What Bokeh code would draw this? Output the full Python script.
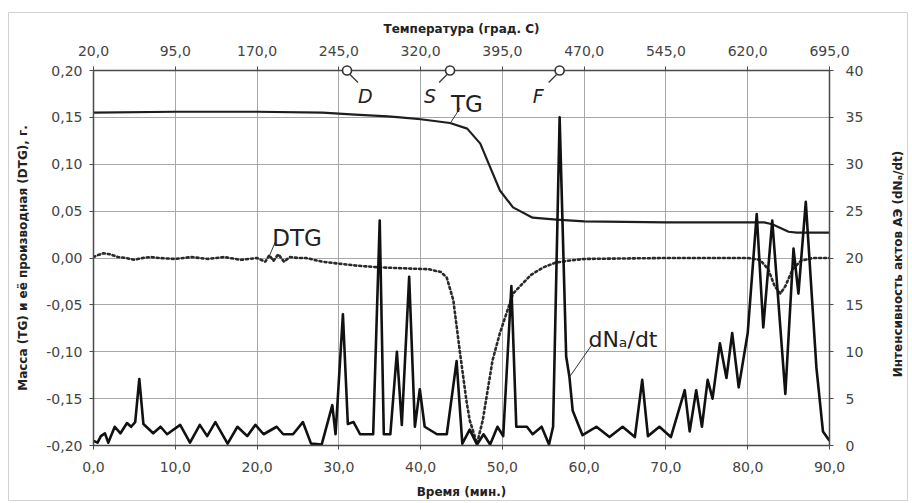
import math
from bokeh.plotting import figure
from bokeh.models import (Range1d, LinearAxis, FixedTicker, ColumnDataSource,
                          CustomJSTickFormatter)
from bokeh.embed import file_html
from bokeh.resources import INLINE
from bokeh.core.properties import value

# ---------------- data ----------------
time_ticks = [0, 10, 20, 30, 40, 50, 60, 70, 80, 90]
temp_ticks = [20, 95, 170, 245, 320, 395, 470, 545, 620, 695]
mass_ticks = [-0.20, -0.15, -0.10, -0.05, 0.0, 0.05, 0.10, 0.15, 0.20]
ae_ticks = [0, 5, 10, 15, 20, 25, 30, 35, 40]

tg_t = [0, 10, 20, 28, 32, 36, 37.5, 40, 43.6, 45.7, 47.3, 48.5, 49.7, 51.3,
        53.7, 56.6, 60, 70, 82, 83, 84, 85, 86, 90]
tg_v = [0.155, 0.156, 0.156, 0.155, 0.153, 0.151, 0.150, 0.148, 0.144, 0.138,
        0.122, 0.097, 0.072, 0.054, 0.043, 0.041, 0.039, 0.038, 0.038, 0.036,
        0.032, 0.028, 0.027, 0.027]

dtg_t = [0, 0.5, 1.2, 2, 3, 4, 5, 6, 7, 8, 10, 12, 14, 16, 18, 20, 21, 21.5,
         22, 22.6, 23.3, 24, 25, 26, 27, 28, 30, 32, 35, 38, 41, 42.5, 43.2,
         44, 44.8, 45.6, 46, 46.9, 47.6, 48.8, 49.7, 50.5, 51.3, 52.5, 53.5,
         55, 56.5, 58, 60, 70, 80, 81.5, 82.5, 83.3, 84, 84.6, 85.5, 86.5, 88,
         90]
dtg_v = [0.001, 0.003, 0.005, 0.004, 0.001, 0.0, -0.002, 0.0, 0.001, 0.0,
         -0.001, 0.001, -0.001, 0.001, -0.002, 0.0, -0.004, 0.003, -0.003,
         0.004, -0.004, 0.001, 0.0, 0.0, -0.002, -0.004, -0.006, -0.008,
         -0.010, -0.011, -0.012, -0.015, -0.021, -0.045, -0.100, -0.152,
         -0.173, -0.198, -0.173, -0.109, -0.080, -0.059, -0.038, -0.027,
         -0.018, -0.010, -0.005, -0.003, -0.001, 0.0, 0.0, -0.002, -0.012,
         -0.030, -0.038, -0.030, -0.012, -0.003, 0.0, 0.0]

ae_t = [0.0, 0.5, 0.9, 1.4, 1.8, 2.6, 3.3, 4.1, 4.6, 5.1, 5.6, 6.1, 7.3, 8.2,
        9.0, 10.6, 11.8, 13.0, 13.9, 14.9, 16.4, 17.6, 18.8, 19.8, 20.8, 22.4,
        23.2, 24.4, 25.6, 26.6, 27.9, 28.8, 29.2, 29.6, 30.5, 31.1, 31.8, 32.6,
        34.2, 35.0, 35.5, 36.3, 37.1, 37.7, 38.6, 39.3, 39.9, 40.5, 42.0, 43.2,
        44.4, 45.1, 46.0, 46.9, 47.7, 48.5, 49.4, 50.1, 51.1, 51.7, 53.0, 53.7,
        54.8, 55.7, 56.2, 57.0, 57.8, 58.2, 58.6, 59.8, 61.5, 63.1, 64.7, 66.2,
        67.1, 67.8, 69.2, 70.6, 72.3, 72.9, 73.7, 74.4, 75.1, 75.7, 76.6, 77.4,
        78.1, 78.9, 80.0, 81.1, 81.9, 83.0, 84.6, 85.6, 86.2, 87.1, 88.4, 89.2,
        90.0]
ae_v = [0.5, 0.3, 1.0, 1.3, 0.3, 2.0, 1.3, 2.4, 2.0, 2.5, 7.1, 2.3, 1.3, 2.0,
        1.2, 2.2, 0.3, 2.2, 1.0, 2.5, 0.2, 2.0, 1.0, 2.2, 1.2, 2.0, 1.2, 1.2,
        2.5, 0.2, 0.1, 3.0, 4.3, 1.2, 14.0, 2.3, 2.5, 1.2, 1.2, 24.0, 1.2, 1.2,
        10.0, 2.2, 18.0, 2.0, 6.0, 2.0, 1.2, 1.2, 9.0, 0.2, 1.7, 0.1, 1.2, 0.1,
        2.0, 1.0, 17.0, 2.0, 2.0, 1.2, 2.0, 0.1, 2.0, 35.0, 9.5, 7.3, 3.7, 1.1,
        2.0, 0.9, 2.0, 0.9, 7.0, 1.0, 2.0, 0.9, 5.9, 1.5, 5.9, 2.0, 7.0, 5.0,
        10.9, 7.2, 12.0, 6.2, 12.0, 24.7, 12.6, 24.0, 5.5, 21.0, 16.2, 26.0,
        8.3, 1.5, 0.5]

event_t = [31.0, 43.6, 57.0]
event_labels = ["D", "S", "F"]

right_title = "Интенсивность актов АЭ (dNₐ/dt)"

# ---------------- geometry helpers (px -> data units) ----------------
FW, FH = 736, 375
ML, MR, MT, MB = 93, 83, 70, 58
PX_T = 90.0 / FW
PX_M = 0.40 / FH
PX_A = 40.0 / FH

p = figure(frame_width=FW, frame_height=FH,
           x_range=Range1d(0, 90), y_range=Range1d(-0.2, 0.2),
           output_backend="svg", toolbar_location=None,
           min_border_left=ML, min_border_right=MR,
           min_border_top=MT, min_border_bottom=MB,
           background_fill_color="white", border_fill_color="white")
p.extra_x_ranges = {"temp": Range1d(20, 695)}
p.extra_y_ranges = {"ae": Range1d(0, 40)}
p.outline_line_color = "#444444"

TICK_FONT = "DejaVu Sans"
AX_COLOR = "#4a4a4a"

def style_axis(ax, title, standoff, lab_standoff):
    ax.axis_label = title
    ax.axis_label_text_font = TICK_FONT
    ax.axis_label_text_font_style = "bold"
    ax.axis_label_text_font_size = "12px"
    ax.axis_label_text_color = "#222222"
    ax.axis_label_standoff = standoff
    ax.major_label_text_font = TICK_FONT
    ax.major_label_text_font_size = "14px"
    ax.major_label_text_color = "#444444"
    ax.major_label_standoff = lab_standoff
    ax.axis_line_color = AX_COLOR
    ax.axis_line_width = 1.5
    ax.major_tick_line_color = AX_COLOR
    ax.major_tick_out = 4
    ax.major_tick_in = 0
    ax.minor_tick_line_color = None

# bottom (time)
bx = p.xaxis[0]
bx.ticker = FixedTicker(ticks=time_ticks)
bx.formatter = CustomJSTickFormatter(code="return tick.toFixed(1).replace('.', ',')")
style_axis(bx, "Время (мин.)", 10, 12)

# left (mass)
ly = p.yaxis[0]
ly.ticker = FixedTicker(ticks=mass_ticks)
ly.formatter = CustomJSTickFormatter(code="return tick.toFixed(2).replace('.', ',')")
style_axis(ly, "Масса (TG) и её производная (DTG), г.", 13, 7)

# top (temperature)
tx = LinearAxis(x_range_name="temp", ticker=FixedTicker(ticks=temp_ticks),
                formatter=CustomJSTickFormatter(code="return tick.toFixed(1).replace('.', ',')"))
style_axis(tx, "Температура (град. С)", 7, 11)
p.add_layout(tx, "above")

# right (AE intensity); title drawn as rotated text reading upwards
ry = LinearAxis(y_range_name="ae", ticker=FixedTicker(ticks=ae_ticks))
style_axis(ry, "", 0, 12)
ry.axis_label = None
p.add_layout(ry, "right")
p.text([90 + 68 * PX_T], [-6 * PX_M], text=[right_title], angle=math.pi / 2,
       text_align="center", text_baseline="middle",
       text_font=value(TICK_FONT), text_font_style="bold",
       text_font_size="12px", text_color="#222222", level="overlay")

# faint outer chart border (as in the source picture)
p.quad(left=[-(ML - 8) * PX_T], right=[90 + (MR - 5) * PX_T],
       top=[0.2 + (MT - 12) * PX_M], bottom=[-0.2 - (MB - 3) * PX_M],
       fill_alpha=0, line_color="#d2d2d2", line_width=1, level="overlay")

p.xgrid.ticker = FixedTicker(ticks=time_ticks)
p.ygrid.ticker = FixedTicker(ticks=mass_ticks)
for g in (p.xgrid[0], p.ygrid[0]):
    g.grid_line_color = "#a8a8a8"
    g.grid_line_width = 1

# ---------------- curves ----------------
p.line(tg_t, tg_v, line_color="#1e1e1e", line_width=2.2)
p.line(dtg_t, dtg_v, line_color="#2a2a2a", line_width=2.6, line_dash="2 3",
       line_cap="round")
p.line(ae_t, ae_v, y_range_name="ae", line_color="#111111", line_width=2.6,
       line_join="round")

# ---------------- event markers D, S, F ----------------
ev_src = ColumnDataSource(dict(x=event_t, y=[0.2] * 3, lab=event_labels,
                               dx=[11, -14, -16], align=["left", "right", "right"]))
lx0, ly0, lx1, ly1 = [], [], [], []
for t, sgn in zip(event_t, [1, -1, -1]):
    lx0.append(t + sgn * 3 * PX_T); ly0.append(0.2 - 4 * PX_M)
    lx1.append(t + sgn * 11 * PX_T); ly1.append(0.2 - 12 * PX_M)
p.segment(lx0, ly0, lx1, ly1, line_color="#333333", line_width=1.2)
p.scatter("x", "y", source=ev_src, size=9, marker="circle",
          fill_color="white", line_color="#333333", line_width=1.6,
          level="overlay")
p.text("x", "y", text="lab", source=ev_src, x_offset="dx", y_offset=25,
       text_align="align", text_baseline="alphabetic",
       text_font=value("DejaVu Sans"), text_font_style="italic",
       text_font_size="19px", text_color="#222222")

# ---------------- curve labels ----------------
def tg_at(t):
    for i in range(len(tg_t) - 1):
        if tg_t[i] <= t <= tg_t[i + 1]:
            f = (t - tg_t[i]) / (tg_t[i + 1] - tg_t[i])
            return tg_v[i] + f * (tg_v[i + 1] - tg_v[i])
    return tg_v[-1]

tg_anchor_t = 43.6
tg_anchor_v = tg_at(tg_anchor_t)
p.segment([tg_anchor_t + 1 * PX_T], [tg_anchor_v + 1 * PX_M],
          [tg_anchor_t + 10 * PX_T], [tg_anchor_v + 15 * PX_M],
          line_color="#333333", line_width=1)
p.text([tg_anchor_t], [tg_anchor_v], text=["TG"], x_offset=1, y_offset=-19,
       text_baseline="alphabetic", text_font=value("DejaVu Sans"),
       text_font_size="23px", text_color="#222222")

dtg_anchor_t = 21.5
dtg_anchor_v = 0.0
p.segment([dtg_anchor_t], [dtg_anchor_v + 2 * PX_M],
          [dtg_anchor_t + 6 * PX_T], [dtg_anchor_v + 16 * PX_M],
          line_color="#333333", line_width=1)
p.text([dtg_anchor_t], [dtg_anchor_v], text=["DTG"], x_offset=3, y_offset=-20,
       text_baseline="alphabetic", text_font=value("DejaVu Sans"),
       text_font_size="23px", text_color="#222222")

ae_anchor_t = 58.2
ae_anchor_v = 7.3
p.segment([ae_anchor_t], [ae_anchor_v], [ae_anchor_t + 23 * PX_T],
          [ae_anchor_v + 33 * PX_A], y_range_name="ae",
          line_color="#333333", line_width=1)
p.text([ae_anchor_t], [ae_anchor_v], text=["dNₐ/dt"], x_offset=19, y_offset=-38,
       y_range_name="ae", text_baseline="alphabetic",
       text_font=value("DejaVu Sans"), text_font_size="22px",
       text_color="#222222")

open("out.html", "w").write(file_html(p, INLINE))
